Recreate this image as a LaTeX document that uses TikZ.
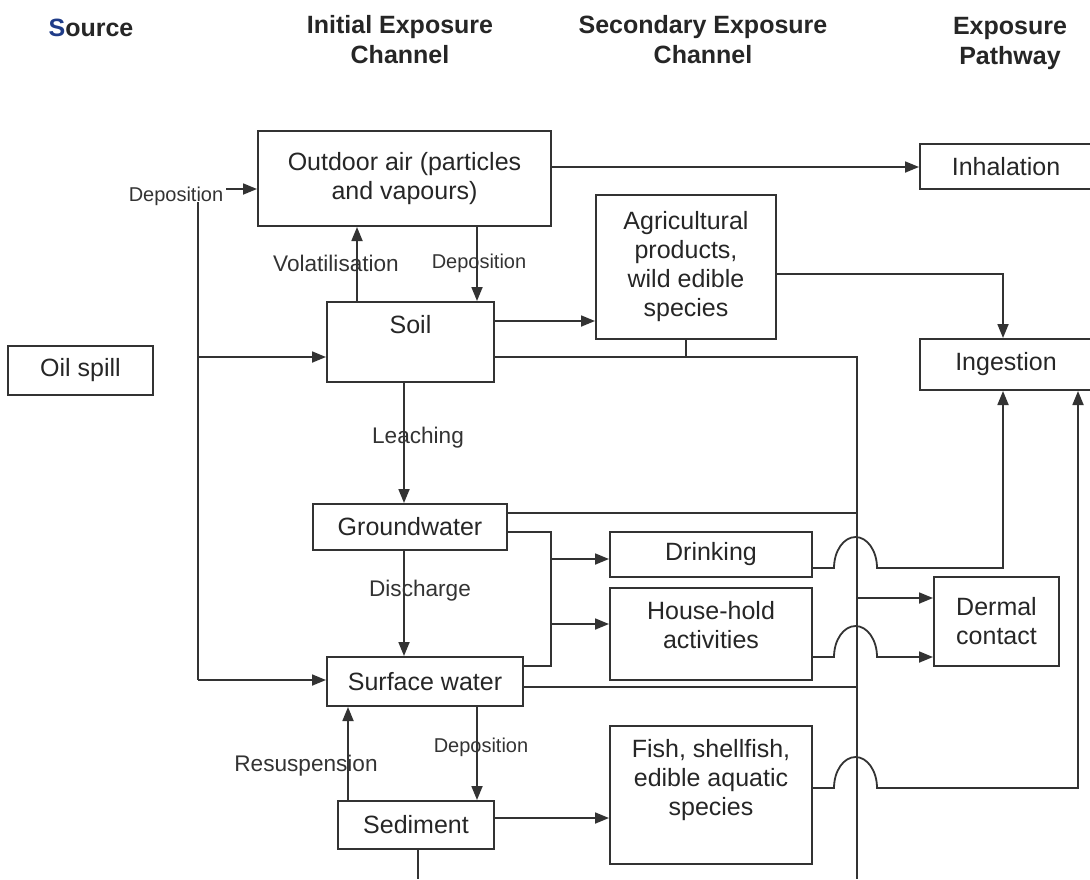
\documentclass[tikz,border=0pt]{standalone}
\usepackage{fontspec}
\setmainfont{Liberation Sans}
\usepackage{tikz}
\usetikzlibrary{arrows.meta, calc}
\definecolor{lineink}{HTML}{333333}
\definecolor{srcblue}{HTML}{1F3C88}
\tikzset{
  box/.style={draw=lineink, line width=1pt, align=center, inner sep=2pt,
    font=\fontsize{12.5}{14.5}\selectfont, text=black!85},
  topbox/.style={box, label={[anchor=north, align=center, inner sep=7pt,
    font=\fontsize{12.5}{14.5}\selectfont, text=black!85]north:#1}},
  lbl/.style={font=\fontsize{11.3}{13}\selectfont, text=black!80, inner sep=0pt},
  lblsm/.style={font=\fontsize{10}{12}\selectfont, text=black!80, inner sep=0pt},
  head/.style={font=\bfseries\fontsize{12.5}{15}\selectfont, align=center, text=black!85},
  line/.style={draw=lineink, line width=0.9pt},
  flow/.style={line, -{Triangle[length=7pt, width=5.5pt]}}
}

\begin{document}
\begin{tikzpicture}[x=0.5pt, y=-0.5pt]
\useasboundingbox (0,0) rectangle (1090,879);
% column heads
\node[head] (hsrc) at (91,28) {\textcolor{srcblue}{S}ource};
\node[head] (hinit) at (400,40) {Initial Exposure\\Channel};
\node[head] (hsec) at (703,40) {Secondary Exposure\\Channel};
\node[head] (hpath) at (1010,43) {Exposure\\Pathway};
% source
\node[box, minimum width=72.5pt, minimum height=24.5pt] (oil) at (80.5,370.5) {Oil spill};
% initial exposure channel
\node[box, minimum width=146.5pt, minimum height=47.5pt] (air) at (404.5,178.5) {Outdoor air (particles\\and vapours)};
\node[topbox=Soil, minimum width=83.5pt, minimum height=40pt] (soil) at (410.5,342) {};
\node[box, minimum width=97pt, minimum height=23pt] (gw) at (410,527) {Groundwater};
\node[box, minimum width=98pt, minimum height=24.5pt] (sw) at (425,681.5) {Surface water};
\node[box, minimum width=78pt, minimum height=24pt] (sed) at (416,825) {Sediment};
% secondary exposure channel
\node[box, minimum width=90pt, minimum height=72pt] (agr) at (686,267) {Agricultural\\products,\\wild edible\\species};
\node[box, minimum width=101pt, minimum height=22.5pt] (drink) at (711,554.5) {Drinking};
\node[topbox={House-hold\\activities}, minimum width=101pt, minimum height=46pt] (house) at (711,634) {};
\node[topbox={Fish, shellfish,\\edible aquatic\\species}, minimum width=101pt, minimum height=69pt] (fish) at (711,795) {};
% exposure pathway
\node[box, minimum width=86pt, minimum height=22.5pt] (inh) at (1006,166.5) {Inhalation};
\node[box, minimum width=86pt, minimum height=25.5pt] (ing) at (1006,364.5) {Ingestion};
\node[box, minimum width=62.5pt, minimum height=44.5pt] (derm) at (996.5,621.5) {Dermal\\contact};
% process labels
\node[lblsm] (dep1) at (176,196) {Deposition};
\node[lbl] (vol) at (336,263) {Volatilisation};
\node[lblsm] (dep2) at (479,263) {Deposition};
\node[lbl] (leach) at (418,438) {Leaching};
\node[lbl] (disch) at (420,591) {Discharge};
\node[lbl] (resus) at (306,766) {Resuspension};
\node[lblsm] (dep3) at (481,747) {Deposition};
% bends and ends
\coordinate (depin) at (226,189);
\coordinate (spinetop) at (198,202);
\coordinate (spinesoil) at (198,357);
\coordinate (spinebot) at (198,680);
\coordinate (volx) at (357,0);
\coordinate (depx) at (477,0);
\coordinate (leachx) at (404,0);
\coordinate (resx) at (348,0);
\coordinate (bustop) at (857,357);
\coordinate (busbot) at (857,879);
\coordinate (splitt) at (551,532);
\coordinate (splitb) at (551,666);
\coordinate (sedend) at (418,879);
\coordinate (agrbend) at (1003,274);
\coordinate (hopd) at (834,568);
\coordinate (drinkbend) at (1003,568);
\coordinate (hoph) at (834,657);
\coordinate (hopf) at (834,788);
\coordinate (fishbend) at (1078,788);
% source spine
\draw[flow] (depin) -- (depin -| air.west);
\draw[line] (spinetop) -- (spinebot);
\draw[flow] (spinesoil) -- (spinesoil -| soil.west);
\draw[flow] (spinebot) -- (spinebot -| sw.west);
% air and soil
\draw[flow] ([yshift=-0.25pt]air.east |- inh.west) -- ([yshift=-0.25pt]inh.west);
\draw[flow] (soil.north -| volx) -- (air.south -| volx);
\draw[flow] (air.south -| depx) -- (soil.north -| depx);
\draw[flow] ([yshift=10.5pt]soil.east) -- ([yshift=10.5pt]soil.east -| agr.west);
\draw[line] (soil.east |- bustop) -- (bustop) -- (busbot);
\draw[line] (agr.south) -- (agr.south |- bustop);
\draw[flow] (soil.south -| leachx) -- (gw.north -| leachx);
% water
\draw[flow] (gw.south -| leachx) -- (sw.north -| leachx);
\draw[line] ([yshift=7pt]gw.east) -- ([yshift=7pt]gw.east -| bustop);
\draw[line] (gw.east |- splitt) -- (splitt) -- (splitb) -- (splitb -| sw.east);
\draw[flow] ([yshift=-2.25pt]drink.west -| splitt) -- ([yshift=-2.25pt]drink.west);
\draw[flow] ([yshift=5pt]house.west -| splitt) -- ([yshift=5pt]house.west);
\draw[line] ([yshift=-2.75pt]sw.east) -- ([yshift=-2.75pt]sw.east -| bustop);
\draw[flow] (sed.north -| resx) -- (sw.south -| resx);
\draw[flow] (sw.south -| depx) -- (sed.north -| depx);
\draw[flow] ([yshift=3.5pt]sed.east) -- ([yshift=3.5pt]sed.east -| fish.west);
\draw[line] (sed.south -| sedend) -- (sedend);
% to pathways
\draw[flow] (agr.east |- agrbend) -- (agrbend) -- (agrbend |- ing.north);
\draw[flow] (drink.east |- hopd) -- (hopd) arc[start angle=180, end angle=360, x radius=21.5, y radius=31] -- (drinkbend) -- (drinkbend |- ing.south);
\draw[flow] (house.east |- hoph) -- (hoph) arc[start angle=180, end angle=360, x radius=21.5, y radius=31] -- (hoph -| derm.west);
\draw[flow] ([yshift=11.75pt]derm.west -| bustop) -- ([yshift=11.75pt]derm.west);
\draw[flow] (fish.east |- hopf) -- (hopf) arc[start angle=180, end angle=360, x radius=21.5, y radius=31] -- (fishbend) -- (fishbend |- ing.south);
\end{tikzpicture}
\end{document}
